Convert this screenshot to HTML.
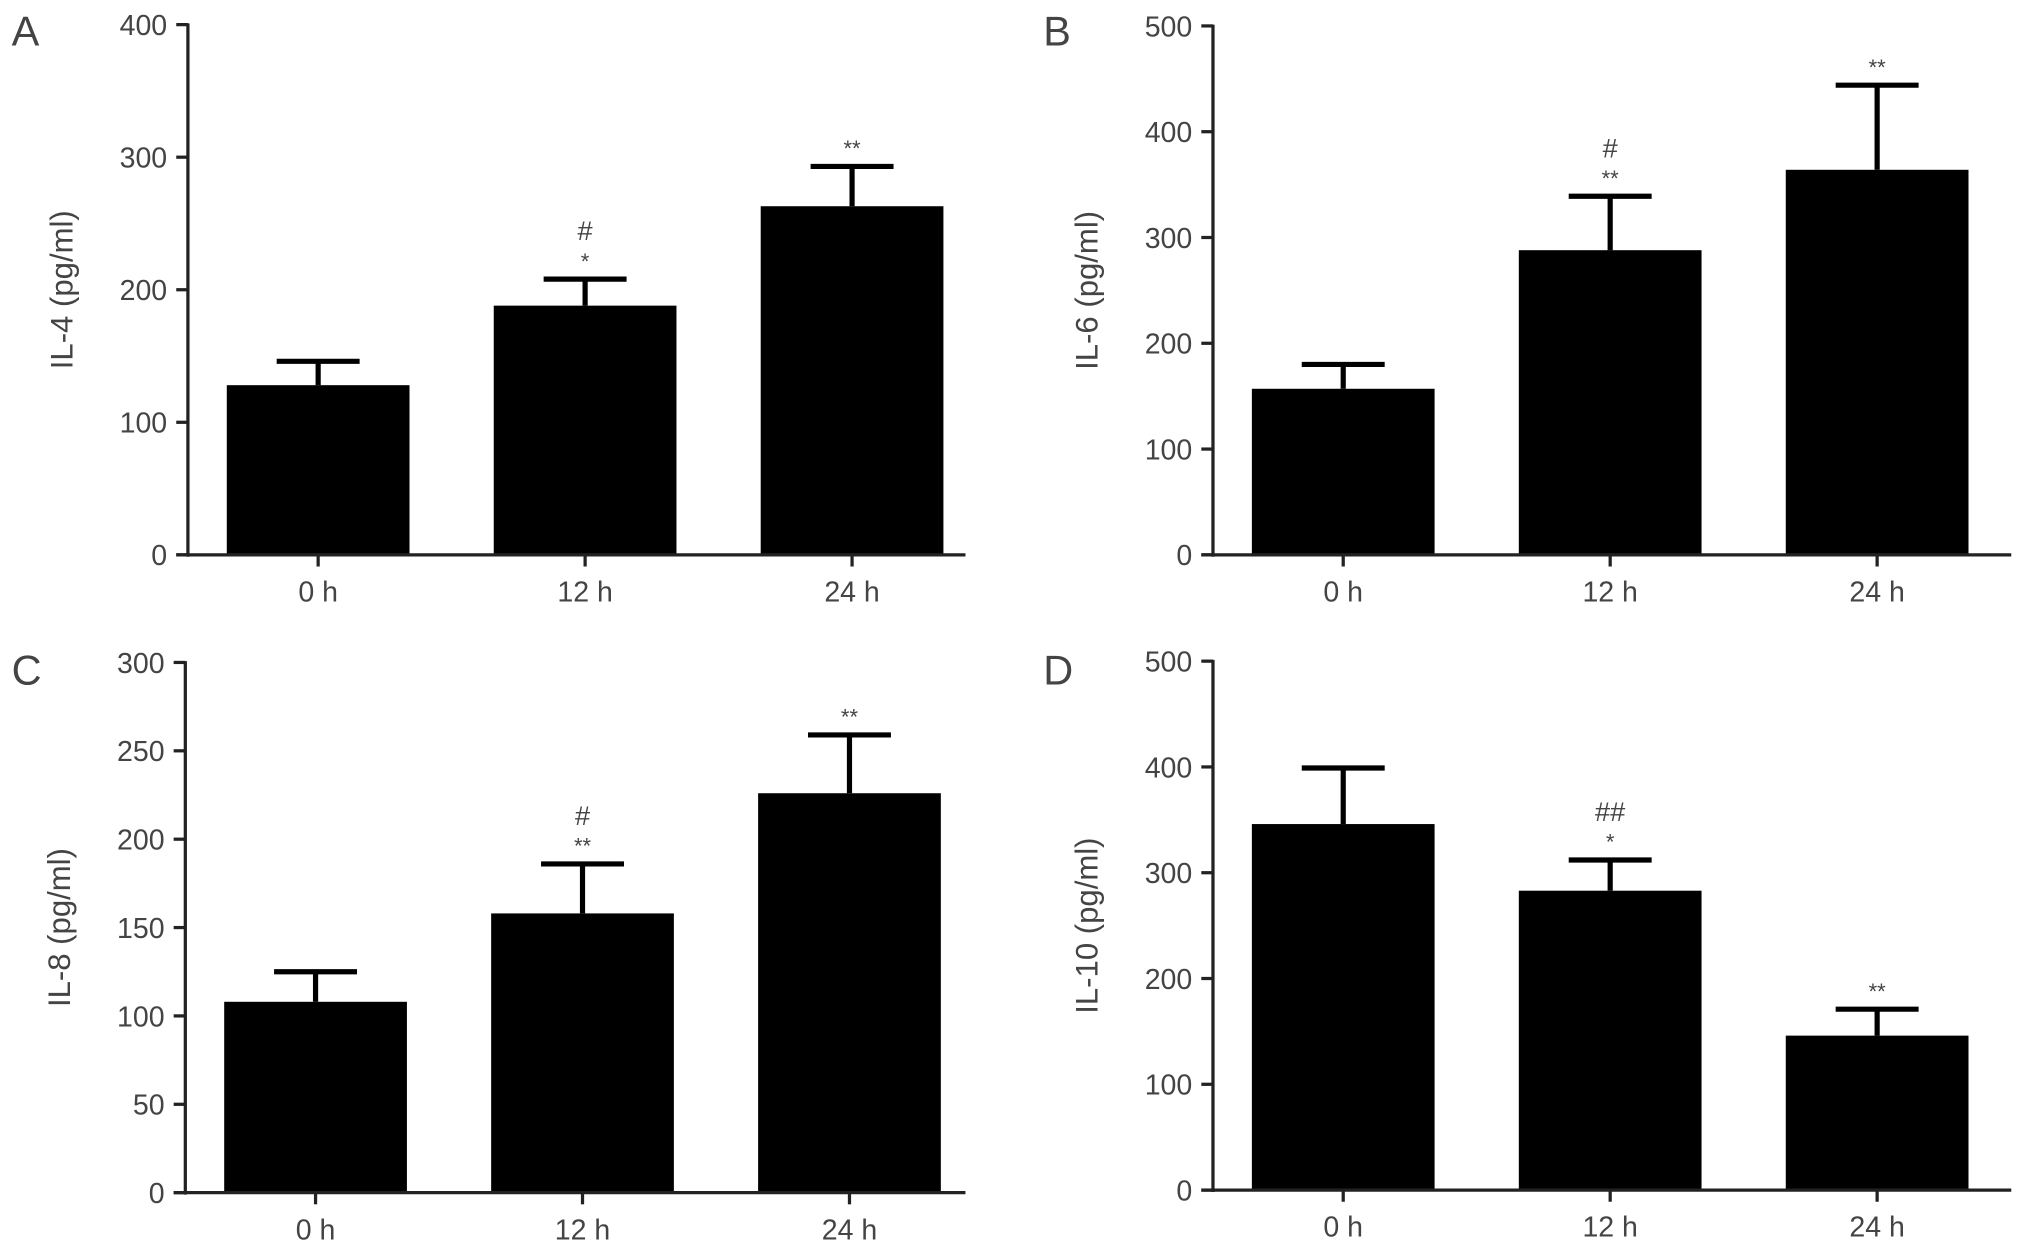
<!DOCTYPE html>
<html><head><meta charset="utf-8"><style>
html,body{margin:0;padding:0;background:#fff;}
svg{display:block;}
text{font-family:"Liberation Sans",sans-serif;fill:#444;}
</style></head><body>
<svg id="fig" width="2032" height="1251" viewBox="0 0 1568 965" preserveAspectRatio="none" xmlns="http://www.w3.org/2000/svg"></svg>
<script>
const categories = ["0 h","12 h","24 h"];
const il4Values = [128,188,263];
const il4Errors = [18,20,30];
const il4Sig = [["",""],["#","*"],["","**"]];
const il6Values = [157,288,364];
const il6Errors = [23,51,80];
const il6Sig = [["",""],["#","**"],["","**"]];
const il8Values = [108,158,226];
const il8Errors = [17,28,33];
const il8Sig = [["",""],["#","**"],["","**"]];
const il10Values = [346,283,146];
const il10Errors = [53,29,25];
const il10Sig = [["",""],["##","*"],["","**"]];
const il4Ticks = [0,100,200,300,400];
const il6Ticks = [0,100,200,300,400,500];
const il8Ticks = [0,50,100,150,200,250,300];
const il10Ticks = [0,100,200,300,400,500];

const NS="http://www.w3.org/2000/svg";
const svg=document.getElementById('fig');
function mk(tag,attrs,parent){const e=document.createElementNS(NS,tag);for(const k in attrs)e.setAttribute(k,attrs[k]);parent.appendChild(e);return e;}

function panel(o){
  const g=mk('g',{},svg);
  
  
  const yMax=o.ticks[o.ticks.length-1];
  const y=v=>o.y0-(v/yMax)*(o.y0-o.yTop);
  const xC=i=>o.ax+30+70.5+i*206;
  const lt=mk('text',{x:o.lx,y:o.ly,'font-size':32,fill:'#222'},g);lt.textContent=o.letter;
  
  
  o.values.forEach((v,i)=>{
    const cx=xC(i);
    const top=y(v+o.errors[i]);
    const eb=mk('line',{x1:cx,x2:cx,y1:y(v),y2:top,stroke:'#000','stroke-width':4},g);
    
    
    const cap=mk('line',{x1:cx-32,x2:cx+32,y1:top,y2:top,stroke:'#000','stroke-width':4},g);
    
    
    const r=mk('rect',{x:cx-70.5,y:y(v),width:141,height:o.y0-y(v),fill:'#000'},g);
    
    
    const s=o.sig[i];
    if(s[1]){const t=mk('text',{x:cx,y:top-8,'font-size':17,'text-anchor':'middle'},g);t.textContent=s[1];
      
      }
    if(s[0]){const t=mk('text',{x:cx,y:top-30,'font-size':21,'text-anchor':'middle'},g);t.textContent=s[0];
      
      }
    const tk=mk('line',{x1:cx,x2:cx,y1:o.y0,y2:o.y0+9,stroke:'#222','stroke-width':2.5},g);
    
    
    const xl=mk('text',{x:cx,y:o.y0+36,'font-size':22,'text-anchor':'middle'},g);xl.textContent=categories[i];
    
    
  });
  const ya=mk('line',{x1:o.ax,x2:o.ax,y1:o.yTop-1,y2:o.y0+1.5,stroke:'#222','stroke-width':2.5},g);
  
  
  const xa=mk('line',{x1:o.ax-9,x2:o.xEnd,y1:o.y0,y2:o.y0,stroke:'#222','stroke-width':2.5},g);
  
  
  o.ticks.forEach(t=>{
    const l=mk('line',{x1:o.ax-9,x2:o.ax,y1:y(t),y2:y(t),stroke:'#222','stroke-width':2.5},g);
    
    
    const tx=mk('text',{x:o.ax-16,y:y(t)+8,'font-size':22,'text-anchor':'end'},g);tx.textContent=t;
    
    
  });
  const yt=mk('text',{x:0,y:0,'font-size':24,'text-anchor':'middle',transform:`translate(${o.ax-89},${(o.y0+o.yTop)/2}) rotate(-90)`},g);
  yt.textContent=o.title;
  
  
}
panel({letter:'A',lx:9,ly:35,ax:145,yTop:19,y0:428,xEnd:745,ticks:il4Ticks,values:il4Values,errors:il4Errors,sig:il4Sig,title:'IL-4 (pg/ml)'});
panel({letter:'B',lx:805,ly:35,ax:936,yTop:20,y0:428,xEnd:1552,ticks:il6Ticks,values:il6Values,errors:il6Errors,sig:il6Sig,title:'IL-6 (pg/ml)'});
panel({letter:'C',lx:9,ly:528,ax:143,yTop:511,y0:920,xEnd:745,ticks:il8Ticks,values:il8Values,errors:il8Errors,sig:il8Sig,title:'IL-8 (pg/ml)'});
panel({letter:'D',lx:805,ly:528,ax:936,yTop:510,y0:918,xEnd:1552,ticks:il10Ticks,values:il10Values,errors:il10Errors,sig:il10Sig,title:'IL-10 (pg/ml)'});
</script>
</body></html>
